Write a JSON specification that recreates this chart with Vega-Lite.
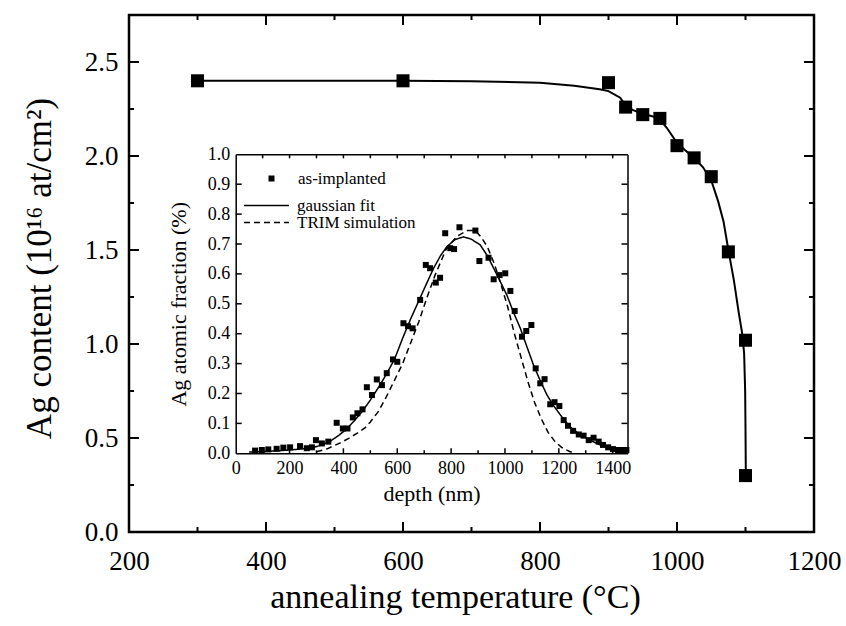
{
  "$schema": "https://vega.github.io/schema/vega-lite/v6.json",
  "width": 685,
  "height": 517,
  "autosize": {"type": "none"},
  "padding": {"left": 129, "top": 15, "right": 32, "bottom": 94},
  "background": "white",
  "config": {
    "font": "Liberation Serif",
    "view": {"stroke": "black", "strokeWidth": 2.5},
    "axis": {
      "grid": false,
      "ticks": false,
      "tickSize": 0,
      "labelColor": "black",
      "titleColor": "black",
      "domainColor": "black",
      "labelFont": "Liberation Serif",
      "titleFont": "Liberation Serif",
      "titleFontWeight": "normal",
      "labelFlush": false,
      "labelOverlap": false
    },
    "legend": {
      "labelFont": "Liberation Serif",
      "labelColor": "black",
      "labelFontSize": 17,
      "padding": 0
    }
  },
  "datasets": {
    "mainPts": [
      {"T": 300, "C": 2.40}, {"T": 600, "C": 2.40}, {"T": 900, "C": 2.39},
      {"T": 925, "C": 2.26}, {"T": 950, "C": 2.22}, {"T": 975, "C": 2.20},
      {"T": 1000, "C": 2.055}, {"T": 1025, "C": 1.99}, {"T": 1050, "C": 1.89},
      {"T": 1075, "C": 1.49}, {"T": 1100, "C": 1.02}, {"T": 1100, "C": 0.30}
    ],
    "mainFit": [
      {"T": 300, "C": 2.40}, {"T": 400, "C": 2.40}, {"T": 500, "C": 2.40}, {"T": 600, "C": 2.40},
      {"T": 700, "C": 2.397}, {"T": 800, "C": 2.39}, {"T": 850, "C": 2.374}, {"T": 887, "C": 2.355},
      {"T": 900, "C": 2.345}, {"T": 917, "C": 2.31}, {"T": 925, "C": 2.27}, {"T": 935, "C": 2.245},
      {"T": 950, "C": 2.225}, {"T": 965, "C": 2.21}, {"T": 975, "C": 2.195}, {"T": 985, "C": 2.15},
      {"T": 1000, "C": 2.07}, {"T": 1012, "C": 2.03}, {"T": 1025, "C": 1.99}, {"T": 1038, "C": 1.94},
      {"T": 1050, "C": 1.87}, {"T": 1060, "C": 1.76}, {"T": 1068, "C": 1.65}, {"T": 1075, "C": 1.50},
      {"T": 1083, "C": 1.34}, {"T": 1090, "C": 1.17}, {"T": 1095, "C": 1.06}, {"T": 1098, "C": 0.95},
      {"T": 1099.5, "C": 0.75}, {"T": 1100, "C": 0.55}, {"T": 1100.5, "C": 0.30}
    ],
    "mainTickX": [
      {"T": 300, "C": 0}, {"T": 400, "C": 0}, {"T": 500, "C": 0}, {"T": 600, "C": 0}, {"T": 700, "C": 0},
      {"T": 800, "C": 0}, {"T": 900, "C": 0}, {"T": 1000, "C": 0}, {"T": 1100, "C": 0},
      {"T": 300, "C": 2.75}, {"T": 400, "C": 2.75}, {"T": 500, "C": 2.75}, {"T": 600, "C": 2.75}, {"T": 700, "C": 2.75},
      {"T": 800, "C": 2.75}, {"T": 900, "C": 2.75}, {"T": 1000, "C": 2.75}, {"T": 1100, "C": 2.75}
    ],
    "mainTickY": [
      {"T": 200, "C": 0.25}, {"T": 200, "C": 0.5}, {"T": 200, "C": 0.75}, {"T": 200, "C": 1.0}, {"T": 200, "C": 1.25},
      {"T": 200, "C": 1.5}, {"T": 200, "C": 1.75}, {"T": 200, "C": 2.0}, {"T": 200, "C": 2.25}, {"T": 200, "C": 2.5},
      {"T": 1200, "C": 0.25}, {"T": 1200, "C": 0.5}, {"T": 1200, "C": 0.75}, {"T": 1200, "C": 1.0}, {"T": 1200, "C": 1.25},
      {"T": 1200, "C": 1.5}, {"T": 1200, "C": 1.75}, {"T": 1200, "C": 2.0}, {"T": 1200, "C": 2.25}, {"T": 1200, "C": 2.5}
    ],
    "insetTickX": [
      {"depth": 100, "frac": 0}, {"depth": 200, "frac": 0}, {"depth": 300, "frac": 0}, {"depth": 400, "frac": 0},
      {"depth": 500, "frac": 0}, {"depth": 600, "frac": 0}, {"depth": 700, "frac": 0}, {"depth": 800, "frac": 0},
      {"depth": 900, "frac": 0}, {"depth": 1000, "frac": 0}, {"depth": 1100, "frac": 0}, {"depth": 1200, "frac": 0},
      {"depth": 1300, "frac": 0}, {"depth": 1400, "frac": 0},
      {"depth": 100, "frac": 1}, {"depth": 200, "frac": 1}, {"depth": 300, "frac": 1}, {"depth": 400, "frac": 1},
      {"depth": 500, "frac": 1}, {"depth": 600, "frac": 1}, {"depth": 700, "frac": 1}, {"depth": 800, "frac": 1},
      {"depth": 900, "frac": 1}, {"depth": 1000, "frac": 1}, {"depth": 1100, "frac": 1}, {"depth": 1200, "frac": 1},
      {"depth": 1300, "frac": 1}, {"depth": 1400, "frac": 1}
    ],
    "insetTickY": [
      {"depth": 0, "frac": 0.1}, {"depth": 0, "frac": 0.2}, {"depth": 0, "frac": 0.3}, {"depth": 0, "frac": 0.4},
      {"depth": 0, "frac": 0.5}, {"depth": 0, "frac": 0.6}, {"depth": 0, "frac": 0.7}, {"depth": 0, "frac": 0.8},
      {"depth": 0, "frac": 0.9},
      {"depth": 1455, "frac": 0.1}, {"depth": 1455, "frac": 0.2}, {"depth": 1455, "frac": 0.3}, {"depth": 1455, "frac": 0.4},
      {"depth": 1455, "frac": 0.5}, {"depth": 1455, "frac": 0.6}, {"depth": 1455, "frac": 0.7}, {"depth": 1455, "frac": 0.8},
      {"depth": 1455, "frac": 0.9}
    ],
    "insetPts": [
      {"depth": 72, "frac": 0.009}, {"depth": 97, "frac": 0.011}, {"depth": 121, "frac": 0.013},
      {"depth": 152, "frac": 0.015}, {"depth": 177, "frac": 0.019}, {"depth": 202, "frac": 0.02},
      {"depth": 239, "frac": 0.024}, {"depth": 264, "frac": 0.017}, {"depth": 283, "frac": 0.02},
      {"depth": 298, "frac": 0.044}, {"depth": 320, "frac": 0.033}, {"depth": 344, "frac": 0.039},
      {"depth": 375, "frac": 0.102}, {"depth": 398, "frac": 0.083}, {"depth": 415, "frac": 0.083},
      {"depth": 435, "frac": 0.12}, {"depth": 452, "frac": 0.134}, {"depth": 471, "frac": 0.147},
      {"depth": 487, "frac": 0.221}, {"depth": 506, "frac": 0.195}, {"depth": 524, "frac": 0.247},
      {"depth": 543, "frac": 0.228}, {"depth": 561, "frac": 0.268}, {"depth": 584, "frac": 0.314},
      {"depth": 600, "frac": 0.306}, {"depth": 623, "frac": 0.435}, {"depth": 640, "frac": 0.425},
      {"depth": 657, "frac": 0.418}, {"depth": 685, "frac": 0.513}, {"depth": 706, "frac": 0.63},
      {"depth": 722, "frac": 0.619}, {"depth": 743, "frac": 0.571}, {"depth": 759, "frac": 0.587},
      {"depth": 778, "frac": 0.736}, {"depth": 797, "frac": 0.686}, {"depth": 811, "frac": 0.683},
      {"depth": 831, "frac": 0.756}, {"depth": 890, "frac": 0.745}, {"depth": 905, "frac": 0.643},
      {"depth": 939, "frac": 0.654}, {"depth": 958, "frac": 0.582}, {"depth": 980, "frac": 0.596},
      {"depth": 1001, "frac": 0.602}, {"depth": 1020, "frac": 0.543}, {"depth": 1036, "frac": 0.476},
      {"depth": 1063, "frac": 0.39}, {"depth": 1079, "frac": 0.409}, {"depth": 1098, "frac": 0.429},
      {"depth": 1114, "frac": 0.284}, {"depth": 1131, "frac": 0.234}, {"depth": 1147, "frac": 0.248},
      {"depth": 1168, "frac": 0.164}, {"depth": 1184, "frac": 0.171}, {"depth": 1202, "frac": 0.158},
      {"depth": 1218, "frac": 0.111}, {"depth": 1234, "frac": 0.092}, {"depth": 1253, "frac": 0.075},
      {"depth": 1274, "frac": 0.063}, {"depth": 1292, "frac": 0.059}, {"depth": 1311, "frac": 0.044},
      {"depth": 1329, "frac": 0.052}, {"depth": 1348, "frac": 0.039}, {"depth": 1364, "frac": 0.028},
      {"depth": 1383, "frac": 0.02}, {"depth": 1401, "frac": 0.014}, {"depth": 1420, "frac": 0.011},
      {"depth": 1439, "frac": 0.011}, {"depth": 1451, "frac": 0.011}
    ],
    "insetLines": [
      {"series": "gaussian fit", "depth": 50, "frac": 0.004}, {"series": "gaussian fit", "depth": 100, "frac": 0.006},
      {"series": "gaussian fit", "depth": 150, "frac": 0.008}, {"series": "gaussian fit", "depth": 200, "frac": 0.011},
      {"series": "gaussian fit", "depth": 250, "frac": 0.015}, {"series": "gaussian fit", "depth": 290, "frac": 0.02},
      {"series": "gaussian fit", "depth": 320, "frac": 0.028}, {"series": "gaussian fit", "depth": 350, "frac": 0.04},
      {"series": "gaussian fit", "depth": 380, "frac": 0.058}, {"series": "gaussian fit", "depth": 410, "frac": 0.08},
      {"series": "gaussian fit", "depth": 440, "frac": 0.108}, {"series": "gaussian fit", "depth": 470, "frac": 0.14},
      {"series": "gaussian fit", "depth": 500, "frac": 0.178}, {"series": "gaussian fit", "depth": 530, "frac": 0.22},
      {"series": "gaussian fit", "depth": 560, "frac": 0.265}, {"series": "gaussian fit", "depth": 590, "frac": 0.315},
      {"series": "gaussian fit", "depth": 620, "frac": 0.385}, {"series": "gaussian fit", "depth": 650, "frac": 0.45},
      {"series": "gaussian fit", "depth": 685, "frac": 0.52}, {"series": "gaussian fit", "depth": 710, "frac": 0.57},
      {"series": "gaussian fit", "depth": 735, "frac": 0.619}, {"series": "gaussian fit", "depth": 760, "frac": 0.66},
      {"series": "gaussian fit", "depth": 784, "frac": 0.691}, {"series": "gaussian fit", "depth": 815, "frac": 0.715},
      {"series": "gaussian fit", "depth": 846, "frac": 0.724}, {"series": "gaussian fit", "depth": 875, "frac": 0.716},
      {"series": "gaussian fit", "depth": 908, "frac": 0.697}, {"series": "gaussian fit", "depth": 935, "frac": 0.66},
      {"series": "gaussian fit", "depth": 958, "frac": 0.619}, {"series": "gaussian fit", "depth": 985, "frac": 0.57},
      {"series": "gaussian fit", "depth": 1007, "frac": 0.529}, {"series": "gaussian fit", "depth": 1030, "frac": 0.475},
      {"series": "gaussian fit", "depth": 1057, "frac": 0.418}, {"series": "gaussian fit", "depth": 1080, "frac": 0.36},
      {"series": "gaussian fit", "depth": 1106, "frac": 0.295}, {"series": "gaussian fit", "depth": 1130, "frac": 0.245},
      {"series": "gaussian fit", "depth": 1156, "frac": 0.195}, {"series": "gaussian fit", "depth": 1180, "frac": 0.16},
      {"series": "gaussian fit", "depth": 1206, "frac": 0.128}, {"series": "gaussian fit", "depth": 1240, "frac": 0.09},
      {"series": "gaussian fit", "depth": 1280, "frac": 0.061}, {"series": "gaussian fit", "depth": 1320, "frac": 0.042},
      {"series": "gaussian fit", "depth": 1354, "frac": 0.028}, {"series": "gaussian fit", "depth": 1390, "frac": 0.017},
      {"series": "gaussian fit", "depth": 1429, "frac": 0.011}, {"series": "gaussian fit", "depth": 1450, "frac": 0.009},
      {"series": "TRIM simulation", "depth": 300, "frac": 0.005}, {"series": "TRIM simulation", "depth": 340, "frac": 0.015},
      {"series": "TRIM simulation", "depth": 388, "frac": 0.035}, {"series": "TRIM simulation", "depth": 420, "frac": 0.05},
      {"series": "TRIM simulation", "depth": 450, "frac": 0.067}, {"series": "TRIM simulation", "depth": 480, "frac": 0.085},
      {"series": "TRIM simulation", "depth": 500, "frac": 0.105}, {"series": "TRIM simulation", "depth": 530, "frac": 0.14},
      {"series": "TRIM simulation", "depth": 560, "frac": 0.19}, {"series": "TRIM simulation", "depth": 590, "frac": 0.245},
      {"series": "TRIM simulation", "depth": 620, "frac": 0.3}, {"series": "TRIM simulation", "depth": 650, "frac": 0.37},
      {"series": "TRIM simulation", "depth": 680, "frac": 0.44}, {"series": "TRIM simulation", "depth": 710, "frac": 0.52},
      {"series": "TRIM simulation", "depth": 740, "frac": 0.595}, {"series": "TRIM simulation", "depth": 780, "frac": 0.68},
      {"series": "TRIM simulation", "depth": 820, "frac": 0.725}, {"series": "TRIM simulation", "depth": 860, "frac": 0.745},
      {"series": "TRIM simulation", "depth": 890, "frac": 0.745}, {"series": "TRIM simulation", "depth": 910, "frac": 0.725},
      {"series": "TRIM simulation", "depth": 935, "frac": 0.69}, {"series": "TRIM simulation", "depth": 960, "frac": 0.635},
      {"series": "TRIM simulation", "depth": 985, "frac": 0.565}, {"series": "TRIM simulation", "depth": 1010, "frac": 0.49},
      {"series": "TRIM simulation", "depth": 1035, "frac": 0.4}, {"series": "TRIM simulation", "depth": 1060, "frac": 0.32},
      {"series": "TRIM simulation", "depth": 1085, "frac": 0.24}, {"series": "TRIM simulation", "depth": 1110, "frac": 0.17},
      {"series": "TRIM simulation", "depth": 1135, "frac": 0.115}, {"series": "TRIM simulation", "depth": 1160, "frac": 0.07},
      {"series": "TRIM simulation", "depth": 1185, "frac": 0.04}, {"series": "TRIM simulation", "depth": 1210, "frac": 0.02},
      {"series": "TRIM simulation", "depth": 1240, "frac": 0.006}, {"series": "TRIM simulation", "depth": 1260, "frac": 0.0}
    ]
  },
  "resolve": {"scale": {"x": "independent", "y": "independent"}},
  "layer": [
    {
      "resolve": {"axis": {"x": "independent", "y": "independent"}},
      "layer": [
        {
          "data": {"name": "mainFit"},
          "mark": {"type": "line", "color": "black", "strokeWidth": 2},
          "encoding": {
            "x": {
              "field": "T", "type": "quantitative",
              "scale": {"domain": [200, 1200], "nice": false, "zero": false},
              "axis": {
                "orient": "bottom",
                "values": [200, 400, 600, 800, 1000, 1200],
                "format": "d",
                "domain": false,
                "labelFontSize": 27,
                "labelPadding": 16,
                "title": "annealing temperature (°C)",
                "titleFontSize": 34,
                "titlePadding": 6,
                "titleX": 326
              }
            },
            "y": {
              "field": "C", "type": "quantitative",
              "scale": {"domain": [0, 2.75], "nice": false, "zero": false},
              "axis": {
                "orient": "left",
                "values": [0, 0.5, 1, 1.5, 2, 2.5],
                "format": ".1f",
                "domain": false,
                "labelFontSize": 27,
                "labelPadding": 11,
                "title": "Ag content (10¹⁶ at/cm²)",
                "titleFontSize": 35,
                "titlePadding": 27,
                "titleY": 253
              }
            }
          }
        },
        {
          "data": {"name": "mainTickX"},
          "mark": {"type": "point", "filled": false, "color": "black", "opacity": 1, "strokeWidth": 2},
          "encoding": {
            "x": {"field": "T", "type": "quantitative", "scale": {"domain": [200, 1200], "nice": false, "zero": false}, "axis": null},
            "y": {"field": "C", "type": "quantitative", "scale": {"domain": [0, 2.75], "nice": false, "zero": false}, "axis": null},
            "shape": {"condition": {"test": "datum.C === 0", "value": "M0,0L0,-1"}, "value": "M0,0L0,1"},
            "size": {"condition": {"test": "datum.T % 200 === 0", "value": 400}, "value": 100}
          }
        },
        {
          "data": {"name": "mainTickY"},
          "mark": {"type": "point", "filled": false, "color": "black", "opacity": 1, "strokeWidth": 2},
          "encoding": {
            "x": {"field": "T", "type": "quantitative", "scale": {"domain": [200, 1200], "nice": false, "zero": false}, "axis": null},
            "y": {"field": "C", "type": "quantitative", "scale": {"domain": [0, 2.75], "nice": false, "zero": false}, "axis": null},
            "shape": {"condition": {"test": "datum.T === 200", "value": "M0,0L1,0"}, "value": "M0,0L-1,0"},
            "size": {"condition": {"test": "abs(datum.C * 2 - round(datum.C * 2)) < 0.000001", "value": 400}, "value": 100}
          }
        },
        {
          "data": {"name": "mainPts"},
          "mark": {"type": "square", "color": "black", "size": 170, "opacity": 1},
          "encoding": {
            "x": {"field": "T", "type": "quantitative", "scale": {"domain": [200, 1200], "nice": false, "zero": false}, "axis": null},
            "y": {"field": "C", "type": "quantitative", "scale": {"domain": [0, 2.75], "nice": false, "zero": false}, "axis": null}
          }
        }
      ]
    },
    {
      "resolve": {"axis": {"x": "independent", "y": "independent"}},
      "layer": [
        {
          "data": {"name": "insetLines"},
          "mark": {"type": "line", "color": "black", "strokeWidth": 1.5},
          "encoding": {
            "x": {
              "field": "depth", "type": "quantitative",
              "scale": {"domain": [0, 1455], "range": [106.7, 498.5], "nice": false, "zero": false},
              "axis": {"orient": "top", "offset": -438.3, "labels": false, "domain": true, "domainWidth": 1.5, "title": null}
            },
            "y": {
              "field": "frac", "type": "quantitative",
              "scale": {"domain": [0, 1], "range": [438.3, 139.3], "nice": false, "zero": false},
              "axis": {"orient": "right", "offset": -578.3, "labels": false, "domain": true, "domainWidth": 1.5, "title": null}
            },
            "strokeDash": {
              "field": "series", "type": "nominal",
              "scale": {"domain": ["gaussian fit", "TRIM simulation"], "range": [[1, 0], [6, 4]]},
              "legend": {
                "orient": "none",
                "legendX": 129,
                "legendY": 182,
                "title": null,
                "symbolType": "M-7.5,0H7.5",
                "symbolSize": 36,
                "symbolStrokeColor": "black",
                "symbolStrokeWidth": 1.5,
                "labelOffset": 22,
                "labelFontSize": 17,
                "rowPadding": -1,
                "padding": 0
              }
            }
          }
        },
        {
          "data": {"name": "insetTickX"},
          "mark": {"type": "point", "filled": false, "color": "black", "opacity": 1, "strokeWidth": 1.5},
          "encoding": {
            "x": {"field": "depth", "type": "quantitative", "scale": {"domain": [0, 1455], "range": [106.7, 498.5], "nice": false, "zero": false}, "axis": null},
            "y": {"field": "frac", "type": "quantitative", "scale": {"domain": [0, 1], "range": [438.3, 139.3], "nice": false, "zero": false}, "axis": null},
            "shape": {"condition": {"test": "datum.frac === 0", "value": "M0,0L0,-1"}, "value": "M0,0L0,1"},
            "size": {"condition": [{"test": "datum.frac === 0 && datum.depth % 200 === 0", "value": 100}, {"test": "datum.frac === 0", "value": 36}], "value": 64}
          }
        },
        {
          "data": {"name": "insetTickY"},
          "mark": {"type": "point", "filled": false, "color": "black", "opacity": 1, "strokeWidth": 1.5, "size": 144},
          "encoding": {
            "x": {"field": "depth", "type": "quantitative", "scale": {"domain": [0, 1455], "range": [106.7, 498.5], "nice": false, "zero": false}, "axis": null},
            "y": {"field": "frac", "type": "quantitative", "scale": {"domain": [0, 1], "range": [438.3, 139.3], "nice": false, "zero": false}, "axis": null},
            "shape": {"condition": {"test": "datum.depth === 0", "value": "M0,0L1,0"}, "value": "M0,0L-1,0"}
          }
        },
        {
          "data": {"name": "insetPts"},
          "mark": {"type": "point", "filled": true, "color": "black", "size": 36, "opacity": 1},
          "encoding": {
            "x": {
              "field": "depth", "type": "quantitative",
              "scale": {"domain": [0, 1455], "range": [106.7, 498.5], "nice": false, "zero": false},
              "axis": {
                "orient": "bottom",
                "offset": -78.7,
                "values": [0, 200, 400, 600, 800, 1000, 1200, 1400],
                "format": "d",
                "domain": false,
                "labelFontSize": 18,
                "labelPadding": 6,
                "title": "depth (nm)",
                "titleFontSize": 22,
                "titlePadding": 6
              }
            },
            "y": {
              "field": "frac", "type": "quantitative",
              "scale": {"domain": [0, 1], "range": [438.3, 139.3], "nice": false, "zero": false},
              "axis": {
                "orient": "left",
                "offset": -106.7,
                "values": [0, 0.1, 0.2, 0.3, 0.4, 0.5, 0.6, 0.7, 0.8, 0.9, 1],
                "format": ".1f",
                "domain": false,
                "labelFontSize": 18,
                "labelPadding": 6,
                "title": "Ag atomic fraction (%)",
                "titleFontSize": 22,
                "titlePadding": 17
              }
            },
            "shape": {
              "datum": "as-implanted", "type": "nominal",
              "scale": {"range": ["square"]},
              "legend": {
                "orient": "none",
                "legendX": 134,
                "legendY": 155,
                "title": null,
                "symbolSize": 36,
                "symbolFillColor": "black",
                "symbolStrokeColor": "black",
                "symbolStrokeWidth": 0,
                "labelOffset": 18,
                "labelFontSize": 17,
                "padding": 0
              }
            }
          }
        },
        {
          "data": {"name": "insetPts"},
          "mark": {"type": "point", "filled": true, "color": "black", "opacity": 0},
          "encoding": {
            "x": {
              "field": "depth", "type": "quantitative",
              "scale": {"domain": [0, 1455], "range": [106.7, 498.5], "nice": false, "zero": false},
              "axis": {"orient": "bottom", "offset": -377.7, "labels": false, "domain": true, "domainWidth": 1.5, "title": null}
            },
            "y": {
              "field": "frac", "type": "quantitative",
              "scale": {"domain": [0, 1], "range": [438.3, 139.3], "nice": false, "zero": false},
              "axis": {"orient": "left", "offset": -498.5, "labels": false, "domain": true, "domainWidth": 1.5, "title": null}
            }
          }
        }
      ]
    }
  ]
}
